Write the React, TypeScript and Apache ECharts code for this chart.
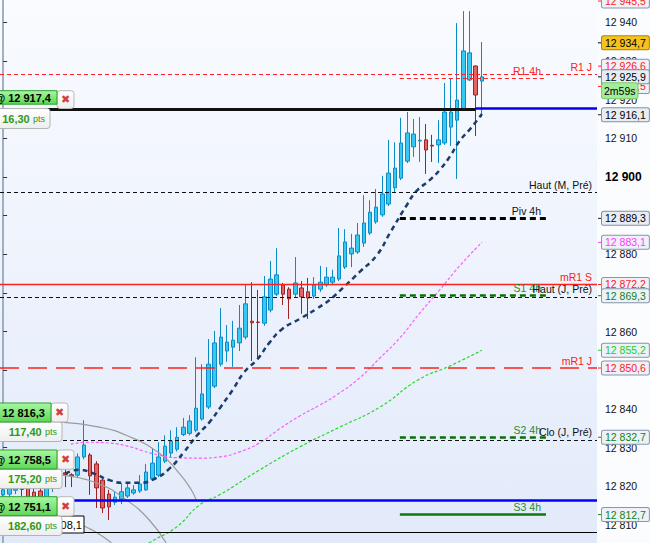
import React, { useEffect, useRef } from 'react';
import * as echarts from 'echarts';

const FONT = "'Liberation Sans', Arial, sans-serif";

// --- bougies : [open, close, low, high] ---
const candles: number[][] = [
  [12817.8, 12819.1, 12816.5, 12820.5],
  [12818.0, 12819.6, 12817.0, 12821.0],
  [12819.0, 12820.5, 12818.0, 12822.0],
  [12820.3, 12819.2, 12817.5, 12821.5],
  [12819.8, 12817.3, 12815.5, 12820.5],
  [12818.5, 12816.8, 12814.5, 12819.5],
  [12818.8, 12817.0, 12815.0, 12820.0],
  [12817.0, 12819.8, 12816.2, 12821.0],
  [12819.5, 12821.5, 12818.5, 12823.0],
  [12821.0, 12823.4, 12820.5, 12825.0],
  [12823.5, 12823.1, 12819.8, 12824.5],
  [12823.0, 12822.7, 12819.8, 12823.4],
  [12822.9, 12827.6, 12822.4, 12828.5],
  [12827.6, 12830.7, 12827.0, 12837.1],
  [12828.1, 12822.7, 12817.8, 12828.6],
  [12825.8, 12819.6, 12814.4, 12826.5],
  [12821.6, 12814.4, 12813.1, 12822.0],
  [12818.0, 12814.7, 12811.3, 12819.1],
  [12815.9, 12817.2, 12815.2, 12818.6],
  [12816.7, 12818.6, 12815.4, 12820.9],
  [12817.5, 12819.6, 12817.0, 12821.1],
  [12818.3, 12819.1, 12817.8, 12820.3],
  [12818.8, 12820.6, 12818.3, 12822.9],
  [12819.1, 12823.7, 12818.8, 12825.8],
  [12821.9, 12826.0, 12821.4, 12829.9],
  [12822.9, 12827.6, 12822.4, 12831.4],
  [12826.5, 12830.4, 12826.0, 12833.2],
  [12828.6, 12831.7, 12827.6, 12834.5],
  [12829.6, 12832.7, 12829.0, 12835.3],
  [12833.4, 12835.3, 12833.0, 12837.7],
  [12833.7, 12836.9, 12833.2, 12838.4],
  [12834.5, 12840.2, 12834.0, 12853.4],
  [12837.4, 12843.9, 12837.0, 12851.6],
  [12840.5, 12851.6, 12840.0, 12858.1],
  [12845.9, 12857.1, 12845.4, 12860.2],
  [12851.6, 12858.6, 12851.0, 12866.1],
  [12855.0, 12857.3, 12852.2, 12861.7],
  [12856.0, 12857.8, 12850.9, 12862.8],
  [12857.1, 12860.9, 12855.0, 12866.9],
  [12858.6, 12867.2, 12858.0, 12872.3],
  [12862.7, 12862.3, 12852.4, 12872.8],
  [12862.5, 12862.4, 12853.4, 12870.8],
  [12862.2, 12869.0, 12861.5, 12874.4],
  [12865.6, 12873.6, 12865.0, 12878.3],
  [12869.7, 12874.7, 12869.2, 12881.6],
  [12872.1, 12869.7, 12866.9, 12872.6],
  [12871.0, 12868.5, 12863.3, 12871.5],
  [12869.7, 12872.6, 12868.7, 12879.3],
  [12871.3, 12869.0, 12864.6, 12873.1],
  [12870.3, 12868.7, 12863.3, 12873.9],
  [12869.2, 12872.1, 12868.5, 12874.1],
  [12871.0, 12872.8, 12870.3, 12877.0],
  [12872.1, 12874.1, 12871.6, 12876.7],
  [12872.8, 12874.1, 12872.3, 12876.0],
  [12873.6, 12879.6, 12873.1, 12886.8],
  [12876.7, 12883.2, 12876.2, 12886.5],
  [12880.1, 12881.6, 12876.7, 12885.3],
  [12880.6, 12885.0, 12880.1, 12888.1],
  [12882.9, 12888.1, 12881.9, 12895.3],
  [12885.5, 12890.9, 12885.0, 12894.0],
  [12888.4, 12892.2, 12887.9, 12896.9],
  [12890.2, 12895.6, 12889.7, 12900.3],
  [12893.0, 12901.0, 12892.5, 12909.6],
  [12897.2, 12902.3, 12895.9, 12909.0],
  [12899.7, 12908.8, 12899.2, 12915.3],
  [12904.1, 12911.4, 12903.6, 12916.8],
  [12907.8, 12911.1, 12905.2, 12915.0],
  [12909.3, 12909.5, 12903.9, 12915.5],
  [12909.6, 12907.0, 12900.8, 12913.7],
  [12908.2, 12908.0, 12903.9, 12910.9],
  [12908.3, 12909.6, 12903.6, 12914.7],
  [12908.8, 12916.8, 12908.3, 12924.3],
  [12912.9, 12916.8, 12908.0, 12925.6],
  [12914.7, 12919.9, 12899.5, 12939.8],
  [12917.6, 12932.6, 12917.3, 12942.9],
  [12925.1, 12932.1, 12924.8, 12942.9],
  [12928.7, 12921.2, 12910.6, 12928.9],
  [12924.8, 12925.9, 12915.5, 12934.9],
];

const slotCount = 96;
const slots = Array.from({ length: slotCount }, (_, i) => `${i}`);

// échelle de prix visible et graduations
const priceMin = 12805.35;
const priceMax = 12945.77;
const priceTicks = [12810, 12820, 12830, 12840, 12850, 12860, 12870, 12880, 12890, 12900, 12910, 12920, 12930, 12940];

// moyennes mobiles et arcs tracés : [position de barre, prix]
const maNavy: number[][] = [
  [10.0, 12823.3], [12.2, 12824.3], [14.6, 12823.3], [17.1, 12821.6], [19.5, 12820.9],
  [21.9, 12820.9], [24.3, 12821.9], [26.7, 12824.5], [29.1, 12828.9], [31.2, 12833.2],
  [33.2, 12836.6], [35.1, 12840.8], [36.9, 12844.9], [38.8, 12849.6], [40.9, 12852.9],
  [42.8, 12857.1], [44.9, 12860.7], [47.7, 12863.3], [50.4, 12865.9], [52.5, 12868.2],
  [54.1, 12870.5], [57.3, 12875.4], [60.1, 12879.8], [62.2, 12885.5], [64.9, 12892.7],
  [66.5, 12896.4], [68.6, 12899.2], [70.2, 12901.8], [71.8, 12905.2], [73.4, 12909.3],
  [75.1, 12912.4], [77.0, 12916.3],
];
const maPink: number[][] = [
  [10.9, 12830.9], [13.8, 12831.4], [17.1, 12831.2], [20.8, 12830.1], [22.4, 12829.2],
  [25.1, 12828.1], [28.0, 12827.4], [31.6, 12827.3], [34.8, 12827.6], [38.0, 12828.9],
  [41.2, 12831.2], [44.4, 12834.8], [47.7, 12838.2], [50.9, 12841.0], [53.6, 12843.6],
  [57.3, 12848.0], [60.6, 12853.2], [63.8, 12858.4], [67.0, 12864.8], [70.2, 12870.8],
  [73.4, 12877.0], [77.0, 12883.1],
];
const maGreen: number[][] = [
  [21.5, 12803.0], [23.5, 12805.4], [27.9, 12809.5], [31.6, 12815.2], [34.8, 12817.8],
  [41.2, 12824.2], [47.7, 12830.2], [54.1, 12835.3], [60.6, 12840.5], [66.7, 12847.5],
  [71.8, 12851.1], [77.0, 12855.2],
];
const arcA: number[][] = [
  [9.3, 12836.6], [15.5, 12835.3], [19.8, 12833.2], [25.1, 12828.6], [28.3, 12823.4],
  [30.3, 12819.0], [31.1, 12816.2],
];
const arcB: number[][] = [
  [9.3, 12822.9], [15.0, 12820.9], [19.8, 12816.5], [23.5, 12811.3], [26.2, 12805.4],
];
const arcC: number[][] = [[12.9, 12809.8], [15.1, 12808.0], [17.4, 12805.4]];

// niveaux horizontaux
const levelNames = [
  'R1 J', 'R1 4h', 'Haut (M, Pré)', 'Piv 4h', 'mR1 S', 'S1 4h',
  'Haut (J, Pré)', 'mR1 J', 'S2 4h', 'Clo (J, Pré)', 'S3 4h',
];
const levelValues = [
  12926.6, 12925.5, 12896.0, 12889.3, 12872.2, 12869.3,
  12869.0, 12850.6, 12832.7, 12832.0, 12812.7,
];
const H4_FROM = 63.8;
const H4_TO = 87.3;

const orderLine = 12917.4;
const orderLineEnd = 76;
const priceLine = 12917.7;
const stopLine = 12816.3;
const lowLine = 12808.1;

// étiquettes de l'échelle de prix
const tagValues = [
  12945.5, 12934.7, 12925.5, 12926.6, 12925.9, 12916.1, 12889.3,
  12883.1, 12872.2, 12869.3, 12855.2, 12850.6, 12832.7, 12812.7,
];
const tagKinds = [
  'red', 'gold', 'red', 'red', 'last', 'plain', 'plain',
  'pink', 'red', 'green', 'lime', 'red', 'green', 'green',
];
const tagShift = [0, 0, 8, -8, 0, 0, 0, 0, 0, 0, 0, 0, 0, 0];
const timerText = '2m59s';

// ordres à gauche
const orderPrices = ['12 917,4', '12 816,3', '12 758,5', '12 751,1'];
const orderPts = ['16,30', '117,40', '175,20', '182,60'];
const hiddenOrder = '12 808,1';
const boxTop = [90.7, 403, 450, 496.7];
const boxH = [13.5, 19, 19, 19];
const boxRight = [57, 51, 57, 57];
const ptsTop = [108.5, 422, 469.3, 516];
const ptsH = [20, 19.5, 19.3, 19.5];
const ptsRight = [50, 62, 62, 62];

const RED = '#ff2020';
const DGREEN = '#137f13';

const levelStyles: Record<string, { color: string; text: string; type: any; width: number; span: string }> = {
  'R1 J': { color: RED, text: RED, type: [4, 3], width: 1.2, span: 'full' },
  'R1 4h': { color: RED, text: RED, type: [4, 3], width: 1.2, span: '4h' },
  'Haut (M, Pré)': { color: '#111', text: '#111', type: [4, 3], width: 1, span: 'full' },
  'Piv 4h': { color: '#000', text: '#111', type: [6, 4], width: 3, span: '4h' },
  'mR1 S': { color: RED, text: RED, type: 'solid', width: 1.3, span: 'full' },
  'S1 4h': { color: '#0a6f0a', text: '#2a8a2a', type: [6, 4], width: 2.5, span: '4h' },
  'Haut (J, Pré)': { color: '#111', text: '#111', type: [4, 3], width: 1, span: 'full' },
  'mR1 J': { color: RED, text: RED, type: [19, 9], width: 1.5, span: 'full' },
  'S2 4h': { color: '#0a6f0a', text: '#2a8a2a', type: [6, 4], width: 2.5, span: '4h' },
  'Clo (J, Pré)': { color: '#111', text: '#111', type: [4, 3], width: 1, span: 'full' },
  'S3 4h': { color: '#0a7a0a', text: '#2a8a2a', type: 'solid', width: 2.5, span: '4h' },
};

const tagStyles: Record<string, { fg: string; bg: string; border: string; tick: string }> = {
  red: { fg: RED, bg: '#eef2f8', border: '#8595aa', tick: RED },
  gold: { fg: '#000', bg: '#f6c21c', border: '#a5831b', tick: '#000' },
  last: { fg: '#000', bg: '#e8edf4', border: '#7f90a6', tick: '#000' },
  plain: { fg: '#000', bg: '#e8edf4', border: '#7f90a6', tick: '#222' },
  pink: { fg: '#ff3cff', bg: '#eef2f8', border: '#8595aa', tick: '#ff3cff' },
  green: { fg: DGREEN, bg: '#eef2f8', border: '#8595aa', tick: DGREEN },
  lime: { fg: '#1ccc1c', bg: '#eef2f8', border: '#8595aa', tick: '#1ccc1c' },
};

const fmtTick = (v: number) => `${Math.floor(v / 1000)} ${String(Math.round(v % 1000)).padStart(3, '0')}`;
const fmtPrice = (v: number) =>
  `${Math.floor(v / 1000)} ${(v % 1000).toFixed(1).padStart(5, '0').replace('.', ',')}`;

const tagItem = (v: number, kind: string, shift: number) => {
  const s = tagStyles[kind];
  let text = `{tk|}{box|${fmtPrice(v)}}`;
  if (kind === 'last') text = `{sp|}\n${text}\n{tg|}{tm|${timerText}}`;
  else if (shift > 0) text = `{sp|}\n${text}`;
  else if (shift < 0) text = `${text}\n{sp|}`;
  const spH = kind === 'last' ? 15 : Math.abs(shift) * 2;
  return {
    yAxis: v,
    lineStyle: { color: 'rgba(0,0,0,0)', width: 0.01, opacity: 1 },
    label: {
      show: true,
      position: 'end',
      distance: 1,
      opacity: 1,
      formatter: () => text,
      rich: {
        tk: { width: 4, height: 1, backgroundColor: s.tick },
        tg: { width: 4, height: 1 },
        sp: { width: 1, height: spH || 1, lineHeight: spH || 1 },
        box: {
          color: s.fg, backgroundColor: s.bg, borderColor: s.border, borderWidth: 1, borderRadius: 1.5,
          padding: [1, 3, 1, 3], height: 11, lineHeight: 13, fontSize: 10.5, fontFamily: FONT,
        },
        tm: {
          color: '#000', backgroundColor: '#a4ec9c', borderColor: '#78c970', borderWidth: 1, borderRadius: 2,
          padding: [2, 2, 2, 2], height: 11, lineHeight: 15, fontSize: 10.5, fontFamily: FONT,
        },
      },
    },
  };
};

const buildOrders = () => {
  const els: any[] = [];
  const greenFill = new echarts.graphic.LinearGradient(0, 0, 0, 1, [
    { offset: 0, color: '#a8f7a2' },
    { offset: 1, color: '#5fd657' },
  ]);
  const whiteFill = new echarts.graphic.LinearGradient(0, 0, 0, 1, [
    { offset: 0, color: '#ffffff' },
    { offset: 1, color: '#eeeeee' },
  ]);
  // ordre masqué derrière la dernière étiquette
  els.push({
    type: 'rect', z: 100,
    shape: { x: -10, y: 516, width: 94, height: 17 },
    style: { fill: '#fff', stroke: '#000', lineWidth: 1 },
  });
  els.push({
    type: 'text', z: 101, x: 82, y: 524.5,
    style: { text: hiddenOrder, fill: '#000', font: `11px ${FONT}`, align: 'right', verticalAlign: 'middle' },
  });
  orderPrices.forEach((p, i) => {
    els.push({
      type: 'rect', z: 102,
      shape: { x: -6, y: ptsTop[i], width: ptsRight[i] + 6, height: ptsH[i], r: 3 },
      style: { fill: whiteFill, stroke: '#b4b4b4', lineWidth: 1 },
    });
    els.push({
      type: 'text', z: 103, x: ptsRight[i] - 5, y: ptsTop[i] + ptsH[i] / 2,
      style: {
        text: `{n|${orderPts[i]}} {u|pts}`,
        align: 'right', verticalAlign: 'middle',
        rich: {
          n: { fontWeight: 'bold', fontSize: 11, fill: '#2c9a18', fontFamily: FONT },
          u: { fontSize: 9, fill: '#2c9a18', fontFamily: FONT },
        },
      },
    });
    const xh = Math.max(boxH[i], ptsTop[i] - boxTop[i]);
    els.push({
      type: 'rect', z: 104,
      shape: { x: boxRight[i], y: boxTop[i], width: 17, height: xh, r: 3 },
      style: { fill: whiteFill, stroke: '#b8b8b8', lineWidth: 1 },
    });
    els.push({
      type: 'text', z: 105, x: boxRight[i] + 8.5, y: boxTop[i] + xh / 2,
      style: { text: '✖', fill: '#d63c3c', font: `bold 11px 'DejaVu Sans', sans-serif`, align: 'center', verticalAlign: 'middle' },
    });
    els.push({
      type: 'rect', z: 104,
      shape: { x: -6, y: boxTop[i], width: boxRight[i] + 6, height: boxH[i] },
      style: { fill: greenFill, stroke: '#2f9f2f', lineWidth: 1 },
    });
    els.push({
      type: 'text', z: 105, x: boxRight[i] - 6, y: boxTop[i] + boxH[i] / 2 + 0.5,
      style: { text: `@ ${p}`, fill: '#000', font: `bold 11px ${FONT}`, align: 'right', verticalAlign: 'middle' },
    });
  });
  return els;
};

const App: React.FC = () => {
  const chartRef = useRef<HTMLDivElement>(null);

  useEffect(() => {
    if (!chartRef.current) return;
    const chart = echarts.init(chartRef.current, undefined, { renderer: 'svg' });

    const levelItems: any[] = levelNames.map((name, i) => {
      const s = levelStyles[name];
      const lineStyle = { color: s.color, type: s.type, width: s.width, opacity: 1 };
      const label = {
        show: true, position: 'insideEndTop', distance: [5, 2], formatter: () => name,
        color: s.text, fontSize: 10.5, fontFamily: FONT,
      };
      if (s.span === 'full') return { yAxis: levelValues[i], lineStyle, label };
      return [{ coord: [H4_FROM, levelValues[i]], lineStyle, label }, { coord: [H4_TO, levelValues[i]] }];
    });
    levelItems.push(
      [{ coord: [-0.5, orderLine], lineStyle: { color: '#111', width: 3, type: 'solid' }, label: { show: false } },
        { coord: [orderLineEnd, orderLine] }],
      [{ coord: [orderLineEnd, priceLine], lineStyle: { color: '#0000ee', width: 2.5, type: 'solid' }, label: { show: false } },
        { coord: [slotCount - 0.5, priceLine] }],
      { yAxis: stopLine, lineStyle: { color: '#0000ff', width: 2.5, type: 'solid' }, label: { show: false } },
      { yAxis: lowLine, lineStyle: { color: '#000', width: 1.2, type: 'solid' }, label: { show: false } },
    );

    const tagItems = tagValues.map((v, i) => tagItem(v, tagKinds[i], tagShift[i]));

    const line = (data: number[][], color: string, width: number, type: any, extra: any = {}) => ({
      type: 'line', xAxisIndex: 1, yAxisIndex: 0, data, smooth: true, symbol: 'none', silent: true,
      lineStyle: { color, width, type }, ...extra,
    });

    const option: any = {
      animation: false,
      backgroundColor: '#fbfcfe',
      grid: {
        left: 0, right: 53, top: 0, bottom: 0, show: true, borderWidth: 0,
        backgroundColor: new echarts.graphic.LinearGradient(0, 0, 0, 1, [
          { offset: 0, color: '#f9fbff' },
          { offset: 1, color: '#e2eafa' },
        ]),
      },
      xAxis: [
        { type: 'category', data: slots, show: false },
        { type: 'value', min: -0.5, max: slotCount - 0.5, show: false },
      ],
      yAxis: {
        type: 'value', position: 'right', min: priceMin, max: priceMax,
        axisLine: { show: true, lineStyle: { color: '#8797ab', width: 1.5 } },
        axisTick: { show: true, length: 4, customValues: priceTicks, lineStyle: { color: '#333' } },
        splitLine: { show: false },
        axisLabel: {
          margin: 8, color: '#111', fontSize: 10.5, fontFamily: FONT,
          customValues: priceTicks,
          formatter: (v: number) => (v === 12900 ? `{b|${fmtTick(v)}}` : fmtTick(v)),
          rich: { b: { fontWeight: 'bold', fontSize: 12, color: '#000', fontFamily: FONT } },
        },
      },
      series: [
        line(arcA, '#9a9a9a', 1.2, 'solid'),
        line(arcB, '#9a9a9a', 1.2, 'solid'),
        line(arcC, '#9a9a9a', 1.2, 'solid'),
        {
          type: 'candlestick', xAxisIndex: 0, yAxisIndex: 0, data: candles, barWidth: 4, silent: true,
          itemStyle: {
            color: '#35c8f2', color0: '#e26464', borderColor: '#0b8bc5', borderColor0: '#9e2222', borderWidth: 1,
          },
        },
        line(maGreen, '#22dd22', 1.2, [3, 2]),
        line(maPink, '#ff5cff', 1.2, [3, 2], {
          markLine: { symbol: ['none', 'none'], silent: true, animation: false, data: tagItems },
        }),
        line(maNavy, '#1c3d6c', 2.5, [5, 4], {
          markLine: { symbol: ['none', 'none'], silent: true, animation: false, data: levelItems },
        }),
      ],
      graphic: buildOrders(),
    };

    chart.setOption(option);

    return () => {
      chart.dispose();
    };
  }, []);

  return (
    <div
      ref={chartRef}
      style={{ position: 'fixed', left: 0, top: 0, width: 650, height: 543, background: '#fbfcfe' }}
    />
  );
};

export default App;
